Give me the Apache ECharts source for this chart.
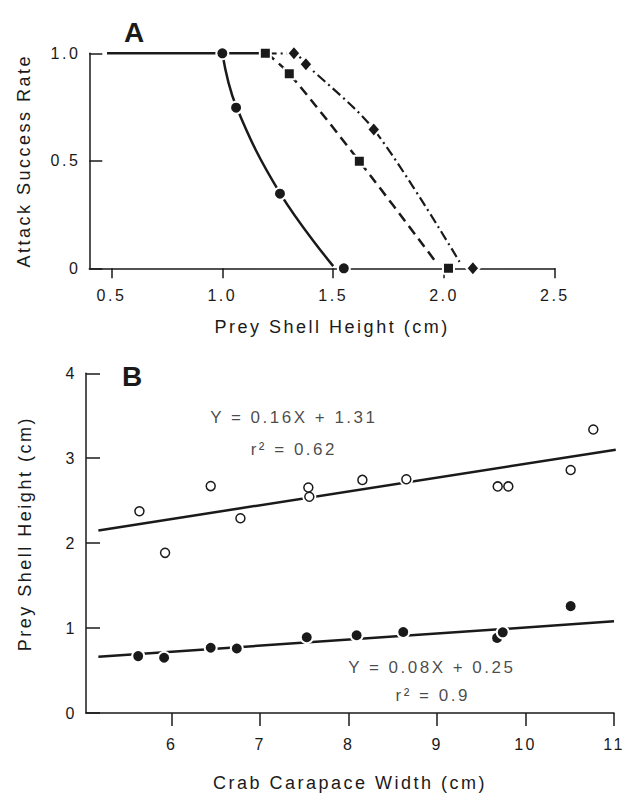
<!DOCTYPE html>
<html>
<head>
<meta charset="utf-8">
<script src="https://cdn.jsdelivr.net/npm/echarts@6/dist/echarts.min.js"></script>
<style>
html, body { margin: 0; padding: 0; background: #fff; }
#chart { width: 635px; height: 793px; }
#chart text { letter-spacing: 2.5px; }
</style>
</head>
<body>
<div id="chart"></div>
<script>
// panel A: attack success vs prey shell height
const aTicksX = [0.5, 1.0, 1.5, 2.0, 2.5];
const aCircles = [[1.0, 1.0], [1.062, 0.747], [1.26, 0.347], [1.548, 0]];
const aSquares = [[1.194, 1.0], [1.302, 0.905], [1.618, 0.498], [2.02, 0]];
const aDiamonds = [[1.323, 1.0], [1.377, 0.949], [1.683, 0.646], [2.13, 0]];
// fitted curves as drawn
const aPlateau = [[0.48, 1.0], [1.2, 1.0]];
const aCircleFit = [[1.0, 1.0], [1.062, 0.755], [1.26, 0.35], [1.5, 0.01]];
const aSquareFit = [[1.2, 1.0], [1.302, 0.905], [1.618, 0.498], [1.97, 0.02]];
const aDiamondFit = [[1.2, 1.0], [1.323, 1.0], [1.377, 0.949], [1.683, 0.646], [2.07, 0.03]];

// panel B: prey shell height vs crab carapace width
const bTicksX = [6, 7, 8, 9, 10, 11];
const bOpenX = [5.634, 5.924, 6.44, 6.776, 7.544, 7.555, 8.155, 8.652, 9.685, 9.805, 10.51, 10.766];
const bOpenY = [2.376, 1.886, 2.672, 2.294, 2.656, 2.547, 2.745, 2.753, 2.668, 2.668, 2.862, 3.338];
const bFilledX = [5.62, 5.913, 6.44, 6.735, 7.526, 8.09, 8.617, 9.678, 9.742, 10.51];
const bFilledY = [0.67, 0.651, 0.768, 0.76, 0.892, 0.915, 0.954, 0.884, 0.95, 1.258];
const bUpperFit = [[5.17, 2.15], [11.02, 3.1]];
const bLowerFit = [[5.17, 0.662], [11.0, 1.079]];
const noteX = [7.38, 7.38, 8.94, 8.95];
const noteY = [3.48, 3.1, 0.534, 0.203];
const noteText = ['Y = 0.16X + 1.31', 'r² = 0.62', 'Y = 0.08X + 0.25', 'r² = 0.9'];

const ink = '#1a1a1a';
const font = 'Liberation Sans';

const chart = echarts.init(document.getElementById('chart'), null, { renderer: 'svg' });

const axisCommon = {
  axisLine: { show: true, onZero: false, lineStyle: { color: ink, width: 1.5 } },
  splitLine: { show: false },
  nameTextStyle: { color: ink, fontSize: 18, fontFamily: font },
};
const labelStyle = { color: ink, fontSize: 16, fontFamily: font };

const zip = (xs, ys) => xs.map((x, i) => [x, ys[i]]);

chart.setOption({
  animation: false,
  backgroundColor: '#fff',
  grid: [
    { left: 89.3, top: 53.3, width: 465.6, height: 215 },
    { left: 86, top: 373.3, width: 528, height: 342.4 }
  ],
  xAxis: [
    Object.assign({}, axisCommon, {
      gridIndex: 0, type: 'value', min: 0.4, max: 2.5,
      name: 'Prey Shell Height (cm)', nameLocation: 'middle', nameGap: 50,
      nameTextStyle: Object.assign({}, axisCommon.nameTextStyle, { padding: [0, 0, 0, 20] }),
      axisTick: { show: true, inside: false, length: 10, lineStyle: { color: ink, width: 1.5 }, customValues: aTicksX },
      axisLabel: Object.assign({}, labelStyle, { margin: 19, customValues: aTicksX, formatter: v => v.toFixed(1) })
    }),
    Object.assign({}, axisCommon, {
      gridIndex: 1, type: 'value', min: 5.03, max: 11,
      name: 'Crab Carapace Width (cm)', nameLocation: 'middle', nameGap: 61,
      axisTick: { show: true, inside: false, length: 13, lineStyle: { color: ink, width: 1.5 }, customValues: bTicksX },
      axisLabel: Object.assign({}, labelStyle, { margin: 23, customValues: bTicksX, formatter: v => String(v) })
    })
  ],
  yAxis: [
    Object.assign({}, axisCommon, {
      gridIndex: 0, type: 'value', min: 0, max: 1, interval: 0.5,
      name: 'Attack Success Rate', nameLocation: 'middle', nameGap: 56,
      axisTick: { show: true, inside: true, length: 13, lineStyle: { color: ink, width: 1.5 } },
      axisLabel: Object.assign({}, labelStyle, { margin: 9, formatter: v => v === 0 ? '0' : v.toFixed(1) })
    }),
    Object.assign({}, axisCommon, {
      gridIndex: 1, type: 'value', min: 0, max: 4, interval: 1,
      name: 'Prey Shell Height (cm)', nameLocation: 'middle', nameGap: 52,
      nameTextStyle: Object.assign({}, axisCommon.nameTextStyle, { padding: [0, 0, 0, 19] }),
      axisTick: { show: true, inside: true, length: 14, lineStyle: { color: ink, width: 1.5 } },
      axisLabel: Object.assign({}, labelStyle, { margin: 9 })
    })
  ],
  graphic: [
    { type: 'text', left: 124, top: 18, style: { text: 'A', font: 'bold 28px "Liberation Sans"', fill: ink } },
    { type: 'text', left: 122, top: 362, style: { text: 'B', font: 'bold 28px "Liberation Sans"', fill: ink } }
  ],
  series: [
    // panel A curves
    { type: 'line', xAxisIndex: 0, yAxisIndex: 0, data: aPlateau, showSymbol: false, z: 2,
      lineStyle: { color: ink, width: 2.5 } },
    { type: 'line', xAxisIndex: 0, yAxisIndex: 0, data: aCircleFit, smooth: 0.4, showSymbol: false, z: 2,
      lineStyle: { color: ink, width: 2.5 } },
    { type: 'line', xAxisIndex: 0, yAxisIndex: 0, data: aSquareFit, smooth: 0.3, showSymbol: false, z: 2,
      lineStyle: { color: ink, width: 2.5, type: [10, 6] } },
    { type: 'line', xAxisIndex: 0, yAxisIndex: 0, data: aDiamondFit, smooth: 0.3, showSymbol: false, z: 2,
      lineStyle: { color: ink, width: 2.2, type: [10, 4, 2, 4] } },
    { type: 'scatter', xAxisIndex: 0, yAxisIndex: 0, data: aCircles, symbol: 'circle', symbolSize: 12, z: 5,
      itemStyle: { color: ink, borderColor: '#fff', borderWidth: 2, opacity: 1 } },
    { type: 'scatter', xAxisIndex: 0, yAxisIndex: 0, data: aSquares, symbol: 'rect', symbolSize: 11, z: 5,
      itemStyle: { color: ink, borderColor: '#fff', borderWidth: 2, opacity: 1 } },
    { type: 'scatter', xAxisIndex: 0, yAxisIndex: 0, data: aDiamonds, symbol: 'diamond', symbolSize: [13, 15], z: 5,
      itemStyle: { color: ink, borderColor: '#fff', borderWidth: 2, opacity: 1 } },
    // panel B regressions
    { type: 'line', xAxisIndex: 1, yAxisIndex: 1, data: bUpperFit, showSymbol: false, z: 2,
      lineStyle: { color: ink, width: 2.5 } },
    { type: 'line', xAxisIndex: 1, yAxisIndex: 1, data: bLowerFit, showSymbol: false, z: 2,
      lineStyle: { color: ink, width: 2.5 } },
    // white halo behind open circles
    { type: 'scatter', xAxisIndex: 1, yAxisIndex: 1, data: zip(bOpenX, bOpenY), symbolSize: 14, z: 3,
      itemStyle: { color: '#fff', opacity: 1 } },
    { type: 'scatter', xAxisIndex: 1, yAxisIndex: 1, data: zip(bOpenX, bOpenY), symbolSize: 9, z: 5,
      itemStyle: { color: '#fff', borderColor: ink, borderWidth: 1.5, opacity: 1 } },
    { type: 'scatter', xAxisIndex: 1, yAxisIndex: 1, data: zip(bFilledX, bFilledY), symbolSize: 12, z: 5,
      itemStyle: { color: ink, borderColor: '#fff', borderWidth: 2, opacity: 1 } },
    // equation notes
    { type: 'scatter', xAxisIndex: 1, yAxisIndex: 1, symbolSize: 0, z: 6, silent: true,
      data: noteX.map((x, i) => ({ value: [x, noteY[i]], name: noteText[i] })),
      label: {
        show: true, position: 'inside', formatter: p => p.name,
        color: ink, fontSize: 17, fontFamily: font
      } }
  ]
});
</script>
</body>
</html>
